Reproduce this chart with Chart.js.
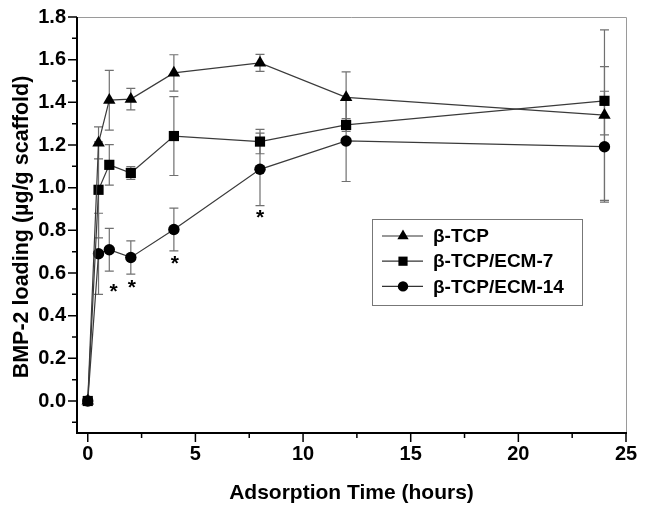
<!DOCTYPE html>
<html>
<head>
<meta charset="utf-8">
<script src="https://cdn.jsdelivr.net/npm/chart.js@4/dist/chart.umd.min.js"></script>
<style>
  html, body { margin: 0; padding: 0; background: #fff; }
  #wrap { width: 645px; height: 509px; }
</style>
</head>
<body>
<div id="wrap"><canvas id="c" width="645" height="509"></canvas></div>
<script>
// ---- data ----
const times = [0, 0.5, 1, 2, 4, 8, 12, 24];
const seriesNames = ['β-TCP', 'β-TCP/ECM-7', 'β-TCP/ECM-14'];
const tcp      = [0, 1.21, 1.41, 1.415, 1.538, 1.585, 1.423, 1.34];
const tcpErr   = [0, 0.075, 0.14, 0.05, 0.085, 0.04, 0.12, 0.40];
const ecm7     = [0, 0.99, 1.107, 1.069, 1.242, 1.216, 1.294, 1.407];
const ecm7Err  = [0, 0.225, 0.095, 0.03, 0.185, 0.057, 0.03, 0.16];
const ecm14    = [0, 0.69, 0.709, 0.673, 0.804, 1.086, 1.219, 1.192];
const ecm14Err = [0, 0.19, 0.10, 0.078, 0.10, 0.17, 0.19, 0.26];
const starX = [1.2, 2.05, 4.05, 8];
const starY = [0.52, 0.54, 0.65, 0.865];
const xTicks = [0, 5, 10, 15, 20, 25];
const yTicks = [0, 0.2, 0.4, 0.6, 0.8, 1.0, 1.2, 1.4, 1.6, 1.8];
const xTitle = 'Adsorption Time (hours)';
const yTitle = 'BMP-2 loading (µg/g scaffold)';

const FONT = '"Liberation Sans", Arial, Helvetica, sans-serif';
const styles = ['triangle', 'rect', 'circle'];
const radii = [7.2, 7.2, 5.7];
const values = [tcp, ecm7, ecm14];
const errs = [tcpErr, ecm7Err, ecm14Err];

function pts(arr) { return times.map((t, i) => ({ x: t, y: arr[i] })); }

function drawMarker(ctx, style, r, x, y) {
  ctx.beginPath();
  if (style === 'triangle') {
    ctx.moveTo(x, y - r);
    ctx.lineTo(x + Math.sin(2 * Math.PI / 3) * r, y - Math.cos(2 * Math.PI / 3) * r);
    ctx.lineTo(x + Math.sin(4 * Math.PI / 3) * r, y - Math.cos(4 * Math.PI / 3) * r);
    ctx.closePath();
  } else if (style === 'rect') {
    const s = r * Math.SQRT1_2;
    ctx.rect(x - s, y - s, 2 * s, 2 * s);
  } else {
    ctx.arc(x, y, r, 0, Math.PI * 2);
  }
  ctx.fill();
}

const decor = {
  id: 'decor',
  beforeDatasetsDraw(chart) {
    const { ctx, scales: { x, y } } = chart;
    ctx.save();
    ctx.strokeStyle = '#707070';
    ctx.lineWidth = 1.2;
    values.forEach((arr, s) => {
      arr.forEach((v, i) => {
        const e = errs[s][i];
        if (!e) return;
        const px = x.getPixelForValue(times[i]);
        const top = y.getPixelForValue(v + e);
        const bot = y.getPixelForValue(v - e);
        ctx.beginPath();
        ctx.moveTo(px, top); ctx.lineTo(px, bot);
        ctx.moveTo(px - 4.5, top); ctx.lineTo(px + 4.5, top);
        ctx.moveTo(px - 4.5, bot); ctx.lineTo(px + 4.5, bot);
        ctx.stroke();
      });
    });
    ctx.restore();
  },
  afterDraw(chart) {
    const { ctx, chartArea: a, scales: { x, y } } = chart;
    ctx.save();
    // frame
    ctx.strokeStyle = '#9a9a9a';
    ctx.lineWidth = 1;
    ctx.beginPath();
    ctx.moveTo(a.left, a.top + 0.5); ctx.lineTo(a.right + 0.5, a.top + 0.5);
    ctx.lineTo(a.right + 0.5, a.bottom);
    ctx.stroke();
    ctx.strokeStyle = '#000';
    ctx.lineWidth = 2;
    ctx.beginPath();
    ctx.moveTo(a.left, a.top); ctx.lineTo(a.left, a.bottom); ctx.lineTo(a.right + 1, a.bottom);
    ctx.stroke();
    // ticks
    ctx.lineWidth = 1.5;
    ctx.beginPath();
    yTicks.forEach(v => {
      const p = y.getPixelForValue(v);
      ctx.moveTo(a.left - 9, p); ctx.lineTo(a.left, p);
    });
    const yStep = yTicks[1] - yTicks[0];
    [yTicks[0] - yStep / 2].concat(yTicks.slice(0, -1).map(v => v + yStep / 2)).forEach(v => {
      const p = y.getPixelForValue(v);
      ctx.moveTo(a.left - 5, p); ctx.lineTo(a.left, p);
    });
    xTicks.forEach(v => {
      const p = x.getPixelForValue(v);
      ctx.moveTo(p, a.bottom); ctx.lineTo(p, a.bottom + 9);
    });
    const xStep = xTicks[1] - xTicks[0];
    xTicks.slice(0, -1).map(v => v + xStep / 2).forEach(v => {
      const p = x.getPixelForValue(v);
      ctx.moveTo(p, a.bottom); ctx.lineTo(p, a.bottom + 5);
    });
    ctx.stroke();
    // y axis title
    ctx.save();
    ctx.fillStyle = '#000';
    ctx.font = 'bold 21.5px ' + FONT;
    ctx.textAlign = 'center';
    ctx.textBaseline = 'middle';
    ctx.translate(22, (a.top + a.bottom) / 2 + 2);
    ctx.rotate(-Math.PI / 2);
    ctx.fillText(yTitle, 0, 0);
    ctx.restore();
    // asterisks
    ctx.fillStyle = '#000';
    ctx.font = 'bold 21px ' + FONT;
    ctx.textAlign = 'center';
    ctx.textBaseline = 'alphabetic';
    starX.forEach((sx, i) => {
      ctx.fillText('*', x.getPixelForValue(sx), y.getPixelForValue(starY[i]) + 8);
    });
    // legend
    const L = a.left + 295, T = 219, W = 210, H = 86;
    ctx.fillStyle = '#fff';
    ctx.fillRect(L, T, W, H);
    ctx.strokeStyle = '#777';
    ctx.lineWidth = 1;
    ctx.strokeRect(L + 0.5, T + 0.5, W, H);
    ctx.font = 'bold 19px ' + FONT;
    ctx.textAlign = 'left';
    ctx.textBaseline = 'middle';
    chart.data.datasets.forEach((ds, i) => {
      const ry = T + 17 + i * 25.2;
      ctx.strokeStyle = '#333';
      ctx.lineWidth = 1.2;
      ctx.beginPath();
      ctx.moveTo(L + 10, ry); ctx.lineTo(L + 51, ry);
      ctx.stroke();
      ctx.fillStyle = '#000';
      drawMarker(ctx, styles[i], i === 2 ? 5.2 : 6.5, L + 31, ry);
      ctx.fillText(ds.label, L + 61, ry + 1);
    });
    ctx.restore();
  }
};

const datasets = values.map((arr, i) => ({
  label: seriesNames[i],
  data: pts(arr),
  showLine: true,
  borderColor: '#3a3a3a',
  borderWidth: 1.2,
  backgroundColor: '#000',
  pointBackgroundColor: '#000',
  pointBorderColor: '#000',
  pointBorderWidth: 0,
  pointStyle: styles[i],
  pointRadius: radii[i],
  pointHoverRadius: radii[i],
  tension: 0
}));

new Chart(document.getElementById('c'), {
  type: 'scatter',
  data: { datasets },
  options: {
    responsive: false,
    animation: false,
    events: [],
    layout: { padding: { top: 17, right: 19, left: 0, bottom: 0 } },
    plugins: { legend: { display: false }, tooltip: { enabled: false } },
    scales: {
      x: {
        type: 'linear',
        min: -0.5, max: 25,
        afterFit(s) { s.height = 76; s.paddingLeft = 0; s.paddingRight = 0; },
        afterBuildTicks(s) { s.ticks = xTicks.map(v => ({ value: v })); },
        grid: { display: false, drawTicks: false },
        border: { display: false },
        ticks: {
          padding: 9,
          color: '#000',
          font: { family: FONT, size: 20, weight: 'bold' },
          maxRotation: 0,
          callback: v => String(v)
        },
        title: {
          display: true, text: xTitle, color: '#000',
          font: { family: FONT, size: 21, weight: 'bold' },
          padding: { top: 0, bottom: 3 }
        }
      },
      y: {
        type: 'linear',
        min: -0.15, max: 1.8,
        afterFit(s) { s.width = 77; s.paddingTop = 0; s.paddingBottom = 0; },
        afterBuildTicks(s) { s.ticks = yTicks.map(v => ({ value: v })); },
        grid: { display: false, drawTicks: false },
        border: { display: false },
        ticks: {
          padding: 11,
          color: '#000',
          font: { family: FONT, size: 20, weight: 'bold' },
          callback: v => Number(v).toFixed(1)
        },
        title: { display: false }
      }
    }
  },
  plugins: [decor]
});
</script>
</body>
</html>
